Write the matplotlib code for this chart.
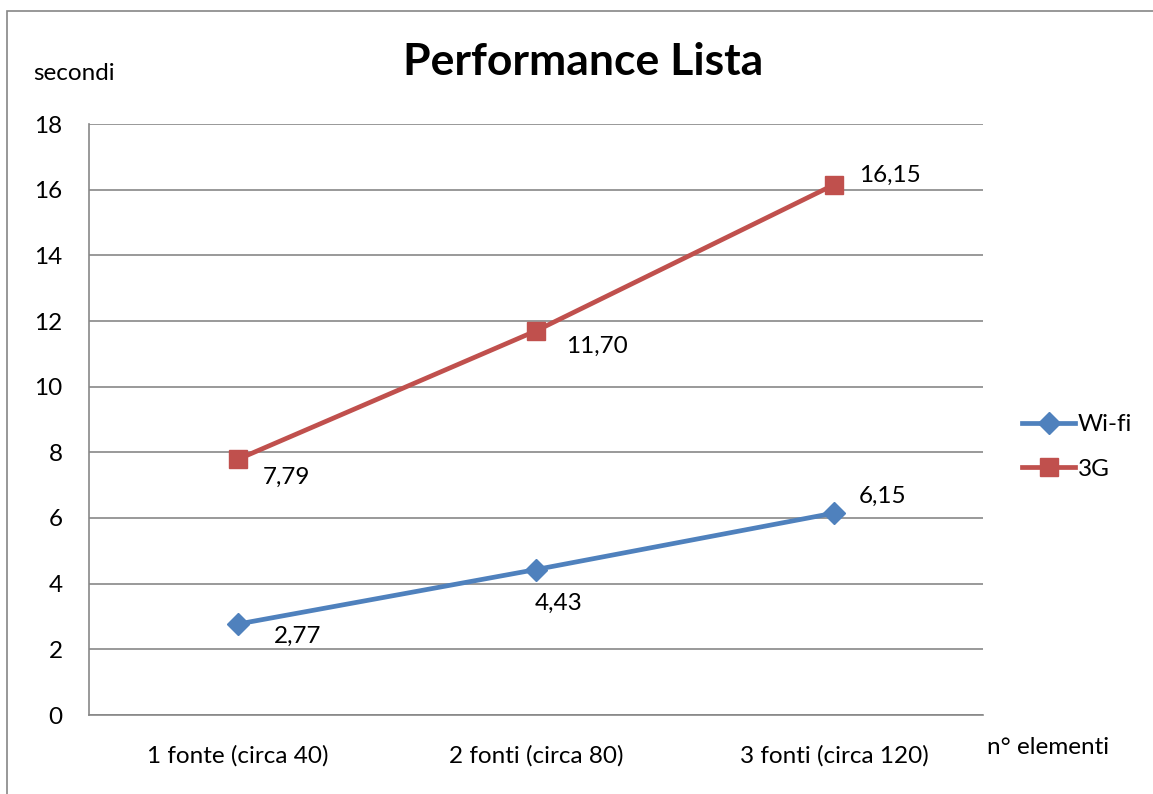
import matplotlib.pyplot as plt
from matplotlib.patches import Rectangle

plt.rcParams['font.family'] = ['Lato', 'DejaVu Sans']

categories = ["1 fonte (circa 40)", "2 fonti (circa 80)", "3 fonti (circa 120)"]
wifi = [2.77, 4.43, 6.15]
g3 = [7.79, 11.70, 16.15]
wifi_labels = ["2,77", "4,43", "6,15"]
g3_labels = ["7,79", "11,70", "16,15"]

blue = "#4F81BD"
red = "#C0504D"
grid_col = "#878787"
fs = 17.5

fig = plt.figure(figsize=(11.53, 7.94), dpi=100)
ax = fig.add_axes([89 / 1153, 1 - 715 / 794, (983 - 89) / 1153, (715 - 124) / 794])

# outer chart frame
fig.patches.append(Rectangle((7 / 1153, -0.01), 1.2, 1 - 11 / 794 + 0.01,
                             transform=fig.transFigure, fill=False,
                             edgecolor="#868686", linewidth=1.2))

x = list(range(len(categories)))
ax.plot(x, wifi, color=blue, linewidth=3.4, marker="D", markersize=11,
        label="Wi-fi", zorder=3)
ax.plot(x, g3, color=red, linewidth=3.4, marker="s", markersize=13.5,
        label="3G", zorder=3)

ax.set_xlim(-0.5, 2.5)
ax.set_ylim(0, 18)
ax.set_yticks(range(0, 19, 2))
ax.set_xticks(x)
ax.set_xticklabels(categories)
ax.tick_params(axis="both", length=0, labelsize=fs, colors="black")
ax.tick_params(axis="y", pad=19)
ax.tick_params(axis="x", pad=22)
ax.grid(axis="y", color=grid_col, linewidth=1.2)
ax.set_axisbelow(True)
for side in ["top", "right"]:
    ax.spines[side].set_visible(False)
for side in ["left", "bottom"]:
    ax.spines[side].set_color(grid_col)
    ax.spines[side].set_linewidth(1.2)

# data labels, offsets in points from each marker
wifi_off = [(43, -9), (16, -24), (35, 12)]
g3_off = [(35, -13), (44, -11.5), (40, 7)]
for xi, yi, lab, off in zip(x, wifi, wifi_labels, wifi_off):
    ax.annotate(lab, (xi, yi), xytext=off, textcoords="offset points",
                ha="center", va="center", fontsize=fs)
for xi, yi, lab, off in zip(x, g3, g3_labels, g3_off):
    ax.annotate(lab, (xi, yi), xytext=off, textcoords="offset points",
                ha="center", va="center", fontsize=fs)

fig.text(583 / 1153, 1 - 62 / 794, "Performance Lista", ha="center",
         va="center", fontsize=32, fontweight="bold")
fig.text(33 / 1153, 1 - 73 / 794, "secondi", ha="left", va="center", fontsize=fs)
fig.text(987 / 1153, 1 - 748 / 794, "n° elementi", ha="left", va="center", fontsize=fs)

fig.legend(loc="center left", bbox_to_anchor=(1022 / 1153, 1 - 447 / 794),
           frameon=False, fontsize=fs, handlelength=2.2, handletextpad=0.1,
           labelspacing=0.95, borderpad=0, borderaxespad=0)

fig.savefig("out.png", dpi=100)
